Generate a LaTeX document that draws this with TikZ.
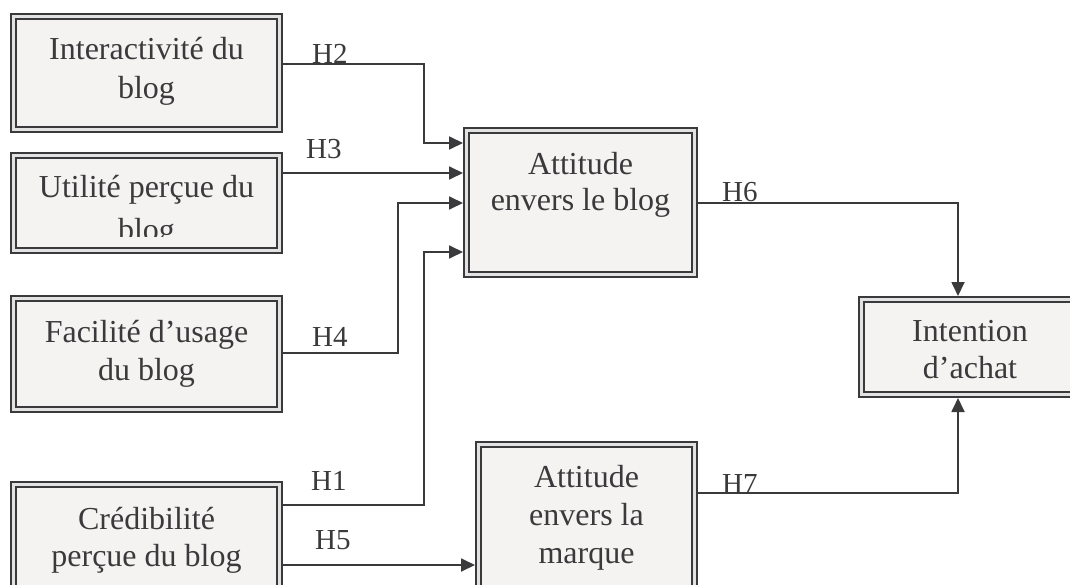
\documentclass[tikz,border=0pt]{standalone}
\usepackage{fontspec}
\setmainfont{Liberation Serif}
\usetikzlibrary{arrows.meta}
\definecolor{ink}{HTML}{3A3A3C}
\definecolor{boxfill}{HTML}{F4F3F2}
\definecolor{gapcol}{HTML}{E2E2E2}
\begin{document}
\begin{tikzpicture}[x=1pt,y=-1pt,
  box/.style={draw=ink, line width=2.3pt, double=gapcol, double distance=2.4pt,
    fill=boxfill, inner sep=0pt, outer sep=3.5pt},
  txt/.style={font=\fontsize{32}{#1}\selectfont, align=center, text=ink,
    inner sep=0pt, anchor=north},
  lab/.style={font=\fontsize{29}{34}\selectfont, text=ink, inner sep=0pt, anchor=base west},
  conn/.style={draw=ink, line width=1.8pt},
  arr/.style={-{Triangle[length=14pt,width=13pt]}}]
\clip (0,0) rectangle (1070,585);
\fill[white] (0,0) rectangle (1070,585);

% boxes
\node[box, minimum width=266pt, minimum height=113pt] (ib) at (146.5,73) {};
\node[box, minimum width=266pt, minimum height=95pt] (ub) at (146.5,203) {};
\node[box, minimum width=266pt, minimum height=111pt] (fb) at (146.5,354) {};
\node[box, minimum width=266pt, minimum height=132pt] (cb) at (146.5,550.5) {};
\node[box, minimum width=228pt, minimum height=144pt] (ab) at (580.5,202.5) {};
\node[box, minimum width=216pt, minimum height=172pt] (mb) at (586.5,530.5) {};
\node[box, minimum width=217pt, minimum height=95pt] (inb) at (970,347) {};

% box texts
\node[txt=39] (ib-t) at (146.5,36.6) {Interactivité du\\blog};
\begin{scope}
\clip (0,0) rectangle (1070,236.5);
\node[txt=43] (ub-t) at (146.5,175) {Utilité perçue du\\blog};
\end{scope}
\node[txt=38] (fb-t) at (146.5,320) {Facilité d’usage\\du blog};
\node[txt=37] (cb-t) at (146.5,507) {Crédibilité\\perçue du blog};
\node[txt=36] (ab-t) at (580.5,152) {Attitude\\envers le blog};
\node[txt=38] (mb-t) at (586.5,465) {Attitude\\envers la\\marque};
\node[txt=37] (inb-t) at (970,320) {Intention\\d’achat};

% connectors
\draw[conn,arr] (ib.east |- 0,64) -| (424,143) -- (ab.west |- 0,143);
\draw[conn,arr] (ub.east |- 0,173) -- (ab.west |- 0,173);
\draw[conn,arr] (fb.east |- 0,353) -| (398,203) -- (ab.west |- 0,203);
\draw[conn,arr] (cb.east |- 0,505) -| (424,252) -- (ab.west |- 0,252);
\draw[conn,arr] (cb.east |- 0,565) -- (mb.west |- 0,565);
\draw[conn,arr] (ab.east |- 0,203) -| (inb.north -| 958,0);
\draw[conn,arr] (mb.east |- 0,493) -| (inb.south -| 958,0);

% labels
\node[lab] (h2) at (312,64) {H2};
\node[lab] (h3) at (306,159) {H3};
\node[lab] (h4) at (312,346) {H4};
\node[lab] (h1) at (311,490) {H1};
\node[lab] (h5) at (315,549) {H5};
\node[lab] (h6) at (722,202) {H6};
\node[lab] (h7) at (722,493) {H7};
\end{tikzpicture}
\end{document}
